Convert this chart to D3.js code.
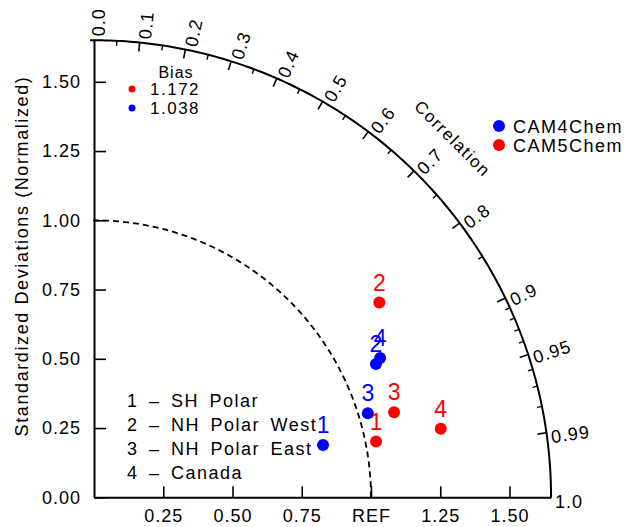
<!DOCTYPE html>
<html>
<head>
<meta charset="utf-8">
<script src="https://cdn.jsdelivr.net/npm/d3@7"></script>
<style>
  body { margin: 0; background: #fff; }
  text { font-family: "Liberation Sans", Arial, sans-serif; fill: #000; }
</style>
</head>
<body>
<svg id="chart" width="634" height="527"></svg>
<script>
// model names and colours (legend order)
var models = ["CAM4Chem", "CAM5Chem"];
var modelColors = ["#0000ff", "#ff0000"];

// cases, numbered 1..4
var caseNames = ["SH Polar", "NH Polar West", "NH Polar East", "Canada"];

// normalized std dev ratio and correlation
var ratioCAM4 = [0.848, 1.126, 1.034, 1.149];
var ccCAM4 = [0.975, 0.904, 0.956, 0.899];
var ratioCAM5 = [1.038, 1.247, 1.126, 1.276];
var ccCAM5 = [0.981, 0.826, 0.962, 0.981];

// bias legend (red first, then blue)
var biasValues = ["1.172", "1.038"];
var biasColors = ["#ff0000", "#0000ff"];

var stdTicks = [0, 0.25, 0.5, 0.75, 1.0, 1.25, 1.5];
var xTicks = [0.25, 0.5, 0.75, 1.0, 1.25, 1.5];
var xTickLabels = ["0.25", "0.50", "0.75", "REF", "1.25", "1.50"];
var corrMajor = [0.0, 0.1, 0.2, 0.3, 0.4, 0.5, 0.6, 0.7, 0.8, 0.9, 0.95, 0.99, 1.0];
var corrLabels = ["0.0", "0.1", "0.2", "0.3", "0.4", "0.5", "0.6", "0.7", "0.8", "0.9", "0.95", "0.99", "1.0"];
var corrMinor = [0.05, 0.15, 0.25, 0.35, 0.45, 0.55, 0.65, 0.75, 0.85,
                 0.91, 0.92, 0.93, 0.94, 0.96, 0.97, 0.98];
var xyMax = 1.65;

var x0 = 94, y0 = 497.3, unit = 277;

var svg = d3.select("#chart");

var x = d3.scaleLinear().domain([0, xyMax]).range([x0, x0 + xyMax * unit]);
var y = d3.scaleLinear().domain([0, xyMax]).range([y0, y0 - xyMax * unit]);

// polar helpers: std ratio + angle -> screen
function px(r, theta) { return x(r * Math.cos(theta)); }
function py(r, theta) { return y(r * Math.sin(theta)); }

var line = d3.line();

function arcPoints(r) {
  return d3.range(0, 91, 0.5).map(function(d) {
    var t = d * Math.PI / 180;
    return [px(r, t), py(r, t)];
  });
}

// dashed REF arc
svg.append("path")
  .attr("d", line(arcPoints(1.0)))
  .attr("fill", "none")
  .attr("stroke", "#000")
  .attr("stroke-width", 1.8)
  .attr("stroke-dasharray", "6,4");

// outer arc
svg.append("path")
  .attr("d", line(arcPoints(xyMax)))
  .attr("fill", "none")
  .attr("stroke", "#000")
  .attr("stroke-width", 2);

// y axis
var yAxis = d3.axisLeft(y)
  .tickValues(stdTicks)
  .tickFormat(d3.format(".2f"))
  .tickSizeInner(-12)
  .tickSizeOuter(0)
  .tickPadding(13);

var gy = svg.append("g").attr("transform", "translate(" + x0 + ",0)").call(yAxis);

// x axis
var xAxis = d3.axisBottom(x)
  .tickValues(xTicks)
  .tickFormat(function(d, i) { return xTickLabels[i]; })
  .tickSizeInner(-11)
  .tickSizeOuter(0)
  .tickPadding(12);

var gx = svg.append("g").attr("transform", "translate(0," + y0 + ")").call(xAxis);

[gx, gy].forEach(function(g) {
  g.select(".domain").attr("stroke-width", 2);
  g.selectAll(".tick line").attr("stroke-width", 1.6);
  g.selectAll("text")
    .attr("font-family", "Liberation Sans, Arial, sans-serif")
    .attr("font-size", 18)
    .style("letter-spacing", "1px");
});

// correlation ticks
var R = xyMax * unit;
function corrTick(c, len, w) {
  var t = Math.acos(c);
  svg.append("line")
    .attr("x1", px(xyMax, t)).attr("y1", py(xyMax, t))
    .attr("x2", x0 + (R - len) * Math.cos(t)).attr("y2", y0 - (R - len) * Math.sin(t))
    .attr("stroke", "#000").attr("stroke-width", w);
}
corrMajor.slice(1, -1).forEach(function(c) { corrTick(c, 9, 1.6); });
corrMinor.forEach(function(c) { corrTick(c, 5, 1.4); });

// correlation labels
corrMajor.forEach(function(c, i) {
  var t = Math.acos(c);
  var rr = R + 4;
  svg.append("text")
    .attr("transform", "translate(" + (x0 + rr * Math.cos(t)) + "," + (y0 - rr * Math.sin(t)) + ") rotate(" + (-t * 180 / Math.PI) + ")")
    .attr("dy", 5)
    .attr("dominant-baseline", "central")
    .attr("font-size", 18)
    .style("letter-spacing", "1px")
    .text(corrLabels[i]);
});

// "Correlation" title
var tc = Math.PI / 4, rc = 1.83 * unit;
svg.append("text")
  .attr("transform", "translate(" + (x0 + rc * Math.cos(tc)) + "," + (y0 - rc * Math.sin(tc)) + ") rotate(45)")
  .attr("text-anchor", "middle")
  .attr("dominant-baseline", "central")
  .attr("font-size", 17)
  .style("letter-spacing", "1.5px")
  .text("Correlation");

// y axis title
svg.append("text")
  .attr("transform", "translate(22,256) rotate(-90)")
  .attr("text-anchor", "middle")
  .attr("dominant-baseline", "central")
  .attr("font-size", 18)
  .style("letter-spacing", "1.6px")
  .text("Standardized Deviations (Normalized)");

// data points
var series = [
  { ratio: ratioCAM4, cc: ccCAM4, color: modelColors[0] },
  { ratio: ratioCAM5, cc: ccCAM5, color: modelColors[1] }
];

series.forEach(function(s) {
  var pts = s.ratio.map(function(r, i) {
    var t = Math.acos(s.cc[i]);
    return { x: px(r, t), y: py(r, t), n: i + 1 };
  });
  var g = svg.append("g");
  g.selectAll("circle").data(pts).enter().append("circle")
    .attr("cx", function(d) { return d.x; })
    .attr("cy", function(d) { return d.y; })
    .attr("r", 6)
    .attr("fill", s.color);
  g.selectAll("text").data(pts).enter().append("text")
    .attr("x", function(d) { return d.x; })
    .attr("y", function(d) { return d.y - 20; })
    .attr("text-anchor", "middle")
    .attr("dominant-baseline", "central")
    .attr("font-size", 23)
    .style("fill", s.color)
    .text(function(d) { return d.n; });
});

// bias legend
svg.append("text")
  .attr("x", 176).attr("y", 72)
  .attr("text-anchor", "middle")
  .attr("dominant-baseline", "central")
  .attr("font-size", 16)
  .style("letter-spacing", "1px")
  .text("Bias");

biasValues.forEach(function(v, i) {
  var yy = 89 + i * 19;
  svg.append("circle").attr("cx", 132).attr("cy", yy).attr("r", 3.5).attr("fill", biasColors[i]);
  svg.append("text")
    .attr("x", 150).attr("y", yy)
    .attr("dominant-baseline", "central")
    .attr("font-size", 17)
    .style("letter-spacing", "1.5px")
    .text(v);
});

// model legend
models.forEach(function(m, i) {
  var yy = 126 + i * 19;
  svg.append("circle").attr("cx", 499).attr("cy", yy).attr("r", 6).attr("fill", modelColors[i]);
  svg.append("text")
    .attr("x", 513).attr("y", yy + 1)
    .attr("dominant-baseline", "central")
    .attr("font-size", 18)
    .style("letter-spacing", "1.5px")
    .text(m);
});

// case list
caseNames.forEach(function(c, i) {
  svg.append("text")
    .attr("x", 127).attr("y", 401 + i * 24)
    .attr("dominant-baseline", "central")
    .attr("font-size", 18)
    .style("letter-spacing", "1.5px")
    .style("word-spacing", "4px")
    .text((i + 1) + " \u2013 " + c);
});
</script>
</body>
</html>
